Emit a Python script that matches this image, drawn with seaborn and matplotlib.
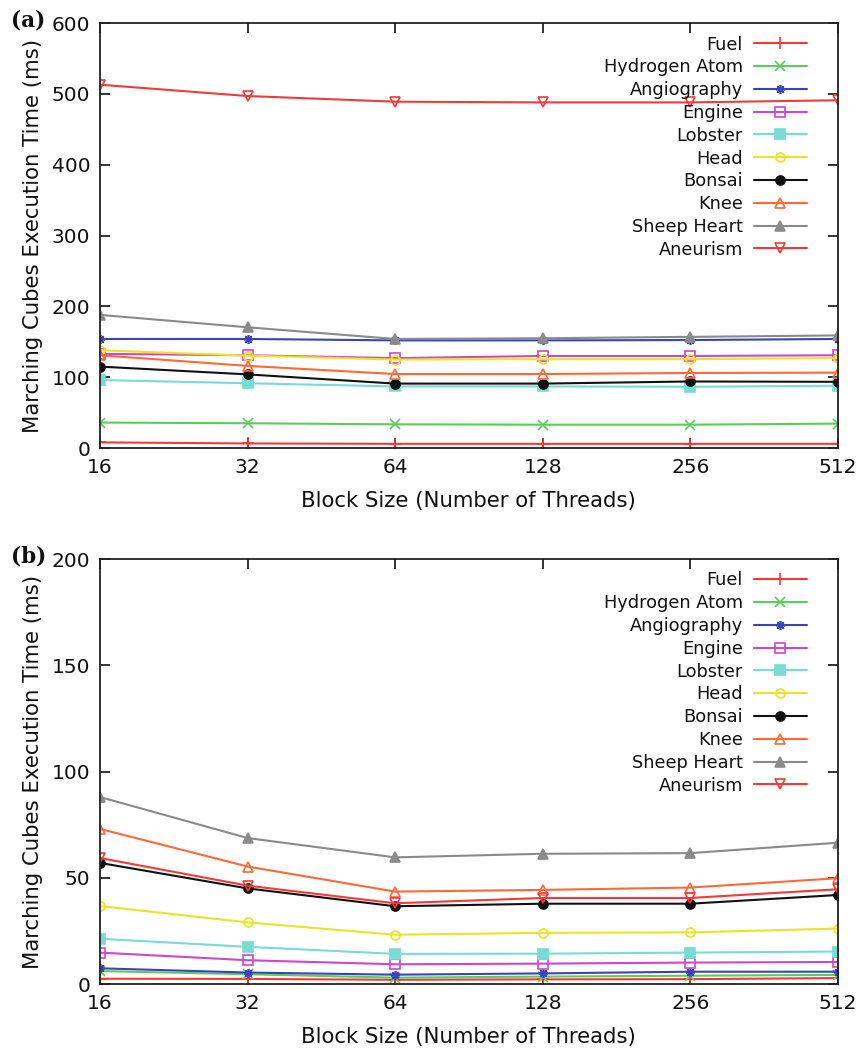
import matplotlib
matplotlib.use("Agg")
import matplotlib.pyplot as plt
import seaborn as sns

# Block sizes (x axis, log2)
blocks = [16, 32, 64, 128, 256, 512]

datasets = ["Fuel", "Hydrogen Atom", "Angiography", "Engine", "Lobster",
            "Head", "Bonsai", "Knee", "Sheep Heart", "Aneurism"]

# (a) execution times in ms
fuel_a = [8, 6.5, 6, 6, 6, 6]
hydrogen_a = [36, 35, 33.5, 33, 33, 34.5]
angio_a = [154, 154, 152, 152, 152.5, 154]
engine_a = [133, 131, 127, 130, 130, 131]
lobster_a = [96, 91.5, 87, 87, 86.5, 88]
head_a = [138, 130.5, 125, 125.5, 125.5, 127]
bonsai_a = [115, 104, 91, 91, 94, 93.5]
knee_a = [131, 116, 104.5, 104.5, 106, 106.5]
sheep_a = [188, 170.5, 154, 155, 157, 159]
aneurism_a = [513, 497, 489, 488, 488, 491]

# (b) execution times in ms
fuel_b = [2.5, 2.4, 2.0, 2.2, 2.3, 2.8]
hydrogen_b = [6.1, 4.6, 3.0, 3.5, 3.9, 4.3]
angio_b = [7.4, 5.4, 4.4, 5.0, 5.8, 5.8]
engine_b = [14.8, 11.2, 9.3, 9.6, 10.1, 10.4]
lobster_b = [21.3, 17.5, 14.2, 14.3, 14.8, 15.3]
head_b = [36.7, 29, 23.2, 24.1, 24.3, 26.1]
bonsai_b = [57, 45, 36.6, 37.8, 37.8, 41.9]
knee_b = [73, 55.3, 43.5, 44.3, 45.4, 49.8]
sheep_b = [88, 68.7, 59.6, 61.3, 61.6, 66.5]
aneurism_b = [59.3, 46.3, 38, 40.5, 40.5, 44.6]

series_a = [fuel_a, hydrogen_a, angio_a, engine_a, lobster_a,
            head_a, bonsai_a, knee_a, sheep_a, aneurism_a]
series_b = [fuel_b, hydrogen_b, angio_b, engine_b, lobster_b,
            head_b, bonsai_b, knee_b, sheep_b, aneurism_b]

# gnuplot-like styles: (color, marker, filled)
styles = [
    ("#f23a3a", "+", True),
    ("#5ccc5c", "x", True),
    ("#3a45b5", (8, 2, 0), True),
    ("#cc48cc", "s", False),
    ("#78dcd4", "s", True),
    ("#e9e428", "o", False),
    ("#111111", "o", True),
    ("#ff6a38", "^", False),
    ("#8a8a8a", "^", True),
    ("#f23a3a", "v", False),
]

sns.set_theme(style="ticks")
plt.rcParams['font.family'] = ['DejaVu Sans']
plt.rcParams['text.color'] = '#111111'
plt.rcParams['axes.labelcolor'] = '#111111'

fig = plt.figure(figsize=(8.59, 10.53), dpi=100)
ax_a = fig.add_axes([0.1164, 0.5745, 0.859, 0.4036])
ax_b = fig.add_axes([0.1164, 0.0655, 0.859, 0.4036])


def draw_panel(ax, series, ymax, ystep, tag):
    for name, vals, (col, mk, filled) in zip(datasets, series, styles):
        sns.lineplot(x=blocks, y=vals, ax=ax, color=col, marker=mk, label=name,
                     linewidth=1.5, markersize=6.5 if mk != "+" else 9,
                     markeredgecolor=col, markeredgewidth=1.2,
                     markerfacecolor=col if filled else "none")
    ax.set_xscale("log", base=2)
    ax.set_xlim(16, 512)
    ax.set_ylim(0, ymax)
    ax.set_xticks(blocks)
    ax.set_xticklabels([str(b) for b in blocks])
    ax.minorticks_off()
    ax.set_yticks(list(range(0, ymax + 1, ystep)))
    ax.tick_params(direction="in", length=7, width=1.2, top=True, right=True,
                   labelsize=14.5, pad=7, colors="#111111")
    for sp in ax.spines.values():
        sp.set_visible(True)
        sp.set_color("#222222")
        sp.set_linewidth(1.3)
    ax.set_xlabel("Block Size (Number of Threads)", fontsize=15.3, labelpad=10)
    ax.set_ylabel("Marching Cubes Execution Time (ms)", fontsize=15.3, labelpad=6)
    ax.legend(loc="upper right", frameon=False, markerfirst=False,
              fontsize=12.8, handlelength=3.0, labelspacing=0.27,
              handletextpad=0.6, borderaxespad=0.3,
              bbox_to_anchor=(0.975, 1.0))
    ax.text(-0.12, 1.005, tag, transform=ax.transAxes, fontsize=15.5,
            fontweight="bold", family="DejaVu Serif", ha="left", va="center")


draw_panel(ax_a, series_a, 600, 100, "(a)")
draw_panel(ax_b, series_b, 200, 50, "(b)")

fig.savefig("out.png", dpi=100)
